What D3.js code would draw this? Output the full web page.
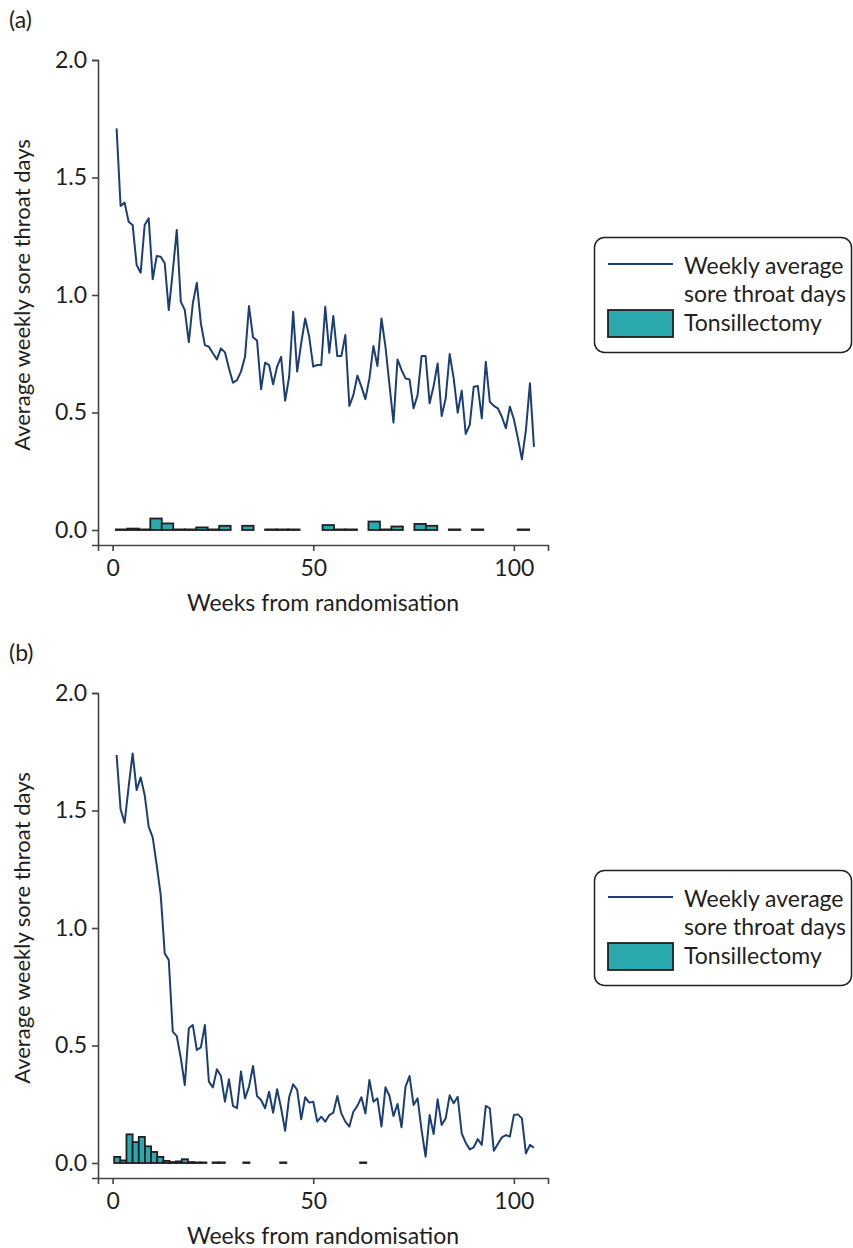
<!DOCTYPE html>
<html>
<head>
<meta charset="utf-8">
<script src="https://cdn.jsdelivr.net/npm/d3@7"></script>
<style>
  body { margin: 0; background: #fff; }
  svg text { font-family: Lato, "Open Sans", sans-serif; fill: #231f20; }
</style>
</head>
<body>
<svg width="853" height="1248"></svg>
<script>
var svg = d3.select("svg");

// weekly average sore throat days, weeks 1..105
var weeks = d3.range(1, 106);

var soreA = [1.709, 1.379, 1.393, 1.312, 1.298, 1.128, 1.095, 1.298, 1.326, 1.067,
  1.166, 1.163, 1.135, 0.936, 1.10, 1.277, 0.972, 0.936, 0.799, 0.965,
  1.052, 0.88, 0.787, 0.78, 0.752, 0.726, 0.773, 0.756, 0.688, 0.627,
  0.638, 0.674, 0.737, 0.953, 0.82, 0.806, 0.599, 0.712, 0.702, 0.62,
  0.695, 0.737, 0.55, 0.652, 0.929, 0.674, 0.794, 0.9, 0.822, 0.695,
  0.702, 0.702, 0.95, 0.754, 0.911, 0.74, 0.74, 0.83, 0.528, 0.574,
  0.657, 0.61, 0.557, 0.645, 0.783, 0.698, 0.9, 0.78, 0.617, 0.457,
  0.726, 0.681, 0.645, 0.641, 0.518, 0.574, 0.74, 0.74, 0.539, 0.613,
  0.709, 0.485, 0.56, 0.749, 0.645, 0.499, 0.593, 0.409, 0.447, 0.61,
  0.613, 0.475, 0.716, 0.546, 0.528, 0.518, 0.482, 0.433, 0.525, 0.471,
  0.39, 0.301, 0.426, 0.624, 0.354];

var soreB = [1.736, 1.505, 1.448, 1.601, 1.743, 1.587, 1.641, 1.566, 1.431, 1.386,
  1.268, 1.14, 0.892, 0.864, 0.559, 0.54, 0.447, 0.332, 0.573, 0.587,
  0.481, 0.492, 0.587, 0.346, 0.322, 0.399, 0.37, 0.261, 0.356, 0.243,
  0.233, 0.389, 0.275, 0.325, 0.413, 0.285, 0.268, 0.233, 0.303, 0.214,
  0.314, 0.233, 0.137, 0.28, 0.335, 0.311, 0.186, 0.28, 0.257, 0.261,
  0.176, 0.197, 0.176, 0.204, 0.214, 0.285, 0.211, 0.176, 0.155, 0.218,
  0.243, 0.28, 0.211, 0.353, 0.261, 0.275, 0.155, 0.322, 0.285, 0.2,
  0.251, 0.152, 0.325, 0.37, 0.247, 0.275, 0.14, 0.027, 0.204, 0.123,
  0.271, 0.162, 0.19, 0.288, 0.254, 0.282, 0.126, 0.086, 0.058, 0.067,
  0.102, 0.077, 0.243, 0.233, 0.052, 0.081, 0.109, 0.119, 0.112, 0.204,
  0.207, 0.19, 0.041, 0.077, 0.065];

// tonsillectomy histogram (density per bin), null = empty bin
var tonsA = [0, 0.006, 0, 0.049, 0.028, 0, 0, 0.011, 0, 0.018,
  null, 0.018, null, 0, 0, 0, null, null, 0.021, 0,
  0, null, 0.036, 0, 0.015, null, 0.026, 0.018, null, 0,
  null, 0, null, null, null, 0];
var tonsB = [0.026, 0.011, 0.122, 0.089, 0.111, 0.071, 0.047, 0.026, 0.009, 0.004,
  0.007, 0.016, 0.004, 0.002, 0.002, null, 0, 0, null, null,
  null, 0, null, null, null, null, null, 0, null, null,
  null, null, null, null, null, null, null, null, null, null, 0];
var binStartA = 0.82, binWidthA = 2.861;
var binStartB = 0.40, binWidthB = 1.532;

var yTicks = [0, 0.5, 1, 1.5, 2];
var xTicks = [0, 50, 100];
var legendLabels = [["Weekly average", "sore throat days"], ["Tonsillectomy"]];

var lineColor = "#1b3f73", barColor = "#2aa9ae", inkColor = "#231f20";
var fs = "23px";

function drawPanel(top, label, sore, tons, binStart, binWidth) {
  var g = svg.append("g").attr("transform", "translate(0," + top + ")");

  var x = d3.scaleLinear().domain([-3.63, 108.5]).range([98, 548]);
  var y = d3.scaleLinear().domain([-0.0638, 2]).range([545, 60]);

  g.append("text").attr("x", 9).attr("y", 28)
    .style("font-size", fs).text(label);

  // bars
  var bins = tons.map((v, i) => ({v: v, x0: binStart + i * binWidth}))
    .filter(d => d.v !== null);
  g.append("g").selectAll("rect").data(bins).enter().append("rect")
    .attr("x", d => x(d.x0))
    .attr("width", x(binWidth) - x(0))
    .attr("y", d => Math.min(y(d.v), y(0) - 0.6))
    .attr("height", d => Math.max(y(0) - y(d.v), 0.6))
    .attr("fill", barColor)
    .attr("stroke", inkColor)
    .attr("stroke-width", 1.8);

  // line
  var line = d3.line().x((d, i) => x(weeks[i])).y(d => y(d));
  g.append("path").datum(sore)
    .attr("d", line)
    .attr("fill", "none")
    .attr("stroke", lineColor)
    .attr("stroke-width", 2)
    .attr("stroke-linejoin", "round");

  // axes
  var yAxis = g.append("g").attr("transform", "translate(98,0)")
    .call(d3.axisLeft(y).tickValues(yTicks).tickFormat(d3.format(".1f")).tickSizeOuter(0).tickSize(6).tickPadding(5));
  var xAxis = g.append("g").attr("transform", "translate(0,545)")
    .call(d3.axisBottom(x).tickValues(xTicks).tickSizeOuter(0).tickSize(6).tickPadding(9));
  [xAxis, yAxis].forEach(a => {
    a.selectAll("path, line").attr("stroke", "#444").attr("stroke-width", 1.6);
    a.selectAll("text").style("font-size", fs).attr("fill", inkColor);
  });

  g.append("text")
    .attr("transform", "translate(30,295) rotate(-90)")
    .attr("text-anchor", "middle")
    .style("font-size", "22px")
    .text("Average weekly sore throat days");
  g.append("text")
    .attr("x", 323).attr("y", 611)
    .attr("text-anchor", "middle")
    .style("font-size", fs)
    .text("Weeks from randomisation");

  // legend
  var lg = g.append("g");
  lg.append("rect").attr("x", 594.5).attr("y", 237.5).attr("width", 257).attr("height", 115)
    .attr("rx", 10).attr("fill", "#fff").attr("stroke", inkColor).attr("stroke-width", 1.5);
  lg.append("line").attr("x1", 608).attr("x2", 673).attr("y1", 264).attr("y2", 264)
    .attr("stroke", lineColor).attr("stroke-width", 2);
  legendLabels[0].forEach((t, i) => {
    lg.append("text").attr("x", 684).attr("y", 274 + i * 28).style("font-size", fs).text(t);
  });
  lg.append("rect").attr("x", 608).attr("y", 310).attr("width", 65).attr("height", 27)
    .attr("fill", barColor).attr("stroke", inkColor).attr("stroke-width", 1.8);
  lg.append("text").attr("x", 684).attr("y", 331).style("font-size", fs).text(legendLabels[1][0]);
}

drawPanel(0, "(a)", soreA, tonsA, binStartA, binWidthA);
drawPanel(633, "(b)", soreB, tonsB, binStartB, binWidthB);
</script>
</body>
</html>
